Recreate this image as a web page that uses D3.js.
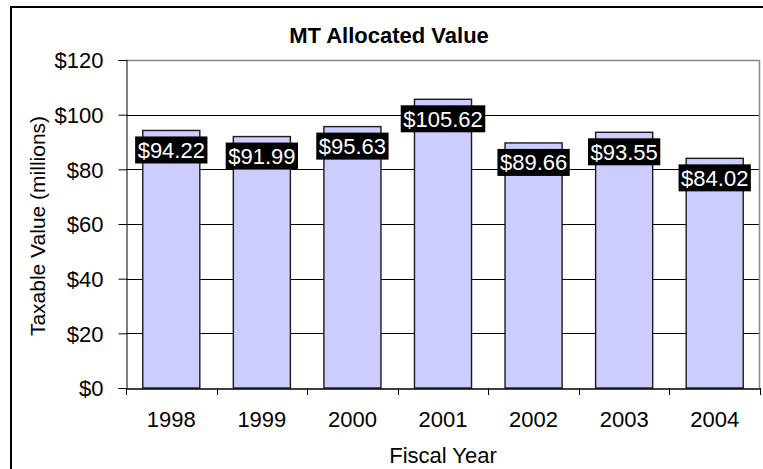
<!DOCTYPE html>
<html>
<head>
<meta charset="utf-8">
<script src="https://cdn.jsdelivr.net/npm/d3@7"></script>
<style>
  html, body { margin: 0; padding: 0; background: #fff; }
  svg { display: block; }
  text { font-family: Arial, "Liberation Sans", sans-serif; fill: #000; }
</style>
</head>
<body>
<svg id="chart" width="763" height="469"></svg>
<script>
// Fiscal years and MT allocated taxable value (millions of dollars)
const years = ["1998", "1999", "2000", "2001", "2002", "2003", "2004"];
const values = [94.22, 91.99, 95.63, 105.62, 89.66, 93.55, 84.02];
const yTicks = [0, 20, 40, 60, 80, 100, 120];

const title = "MT Allocated Value";
const yTitle = "Taxable Value (millions)";
const xTitle = "Fiscal Year";

const W = 763, H = 469;
const plot = { left: 126, right: 760, top: 60, bottom: 388 };
const fontSize = "22px";

const svg = d3.select("#chart");

// chart area frame
svg.append("rect")
  .attr("x", 11).attr("y", 7)
  .attr("width", W + 10).attr("height", H + 10)
  .attr("fill", "#fff").attr("stroke", "#000").attr("stroke-width", 2);

const x = d3.scaleBand()
  .domain(years)
  .range([plot.left, plot.right])
  .paddingInner(0.37)
  .paddingOuter(0.185);

const y = d3.scaleLinear()
  .domain([0, 120])
  .range([plot.bottom, plot.top]);

// horizontal gridlines
svg.append("g")
  .selectAll("line")
  .data(yTicks.filter(d => d > 0 && d < 120))
  .join("line")
  .attr("x1", plot.left).attr("x2", plot.right)
  .attr("y1", d => Math.round(y(d)) + 0.5).attr("y2", d => Math.round(y(d)) + 0.5)
  .attr("stroke", "#000").attr("stroke-width", 1);

// plot area top and right edges
svg.append("path")
  .attr("d", `M${plot.left},${plot.top + 0.5}H${plot.right - 0.5}V${plot.bottom}`)
  .attr("fill", "none").attr("stroke", "#8a8a8a").attr("stroke-width", 1.5);

// bars
svg.append("g")
  .selectAll("rect")
  .data(values)
  .join("rect")
  .attr("x", (d, i) => x(years[i]))
  .attr("y", d => y(d))
  .attr("width", x.bandwidth())
  .attr("height", d => y(0) - y(d))
  .attr("fill", "#ccccff")
  .attr("stroke", "#1a1a1a")
  .attr("stroke-width", 1.4);

// y axis
const yAxis = svg.append("g")
  .attr("transform", `translate(${plot.left + 0.5},0)`)
  .call(d3.axisLeft(y).tickValues(yTicks).tickSize(8).tickPadding(15)
    .tickFormat(d => "$" + d));
yAxis.select(".domain").attr("stroke", "#000");
yAxis.selectAll(".tick line").attr("stroke", "#000");
yAxis.selectAll("text")
  .style("font-size", fontSize)
  .attr("dy", "0.36em");

// x axis (labels centred on bands, ticks on band boundaries)
const xAxis = svg.append("g")
  .attr("transform", `translate(0,${plot.bottom + 0.5})`)
  .call(d3.axisBottom(x).tickSize(0).tickPadding(23));
xAxis.select(".domain").attr("stroke", "#000").attr("stroke-width", 1.5);
xAxis.selectAll("text")
  .style("font-size", fontSize)
  .attr("dy", "0.71em");

const boundaries = years.map(d => x(d) - x.step() * x.paddingInner() / 2)
  .concat([plot.right]);
svg.append("g")
  .selectAll("line")
  .data(boundaries)
  .join("line")
  .attr("x1", d => Math.round(d) + 0.5).attr("x2", d => Math.round(d) + 0.5)
  .attr("y1", plot.bottom).attr("y2", plot.bottom + 7)
  .attr("stroke", "#000").attr("stroke-width", 1);

// value labels: white text on black boxes inside the bar top
const labels = svg.append("g")
  .selectAll("g")
  .data(values)
  .join("g")
  .attr("transform", (d, i) =>
    `translate(${x(years[i]) + x.bandwidth() / 2},${y(d) + 6})`);

labels.each(function (d) {
  const g = d3.select(this);
  const t = g.append("text")
    .attr("text-anchor", "middle")
    .attr("y", 21.5)
    .style("font-size", fontSize)
    .style("fill", "#fff")
    .text("$" + d3.format(".2f")(d));
  const w = t.node().getComputedTextLength() + 5;
  g.insert("rect", "text")
    .attr("x", -w / 2).attr("y", 0)
    .attr("width", w).attr("height", 27)
    .attr("fill", "#000");
});

// titles
svg.append("text")
  .attr("x", 389).attr("y", 43)
  .attr("text-anchor", "middle")
  .style("font-size", fontSize).style("font-weight", "bold")
  .text(title);

svg.append("text")
  .attr("transform", `translate(45,${(plot.top + plot.bottom) / 2 + 2}) rotate(-90)`)
  .attr("text-anchor", "middle")
  .style("font-size", "21px")
  .text(yTitle);

svg.append("text")
  .attr("x", (plot.left + plot.right) / 2).attr("y", 463)
  .attr("text-anchor", "middle")
  .style("font-size", fontSize)
  .text(xTitle);
</script>
</body>
</html>
